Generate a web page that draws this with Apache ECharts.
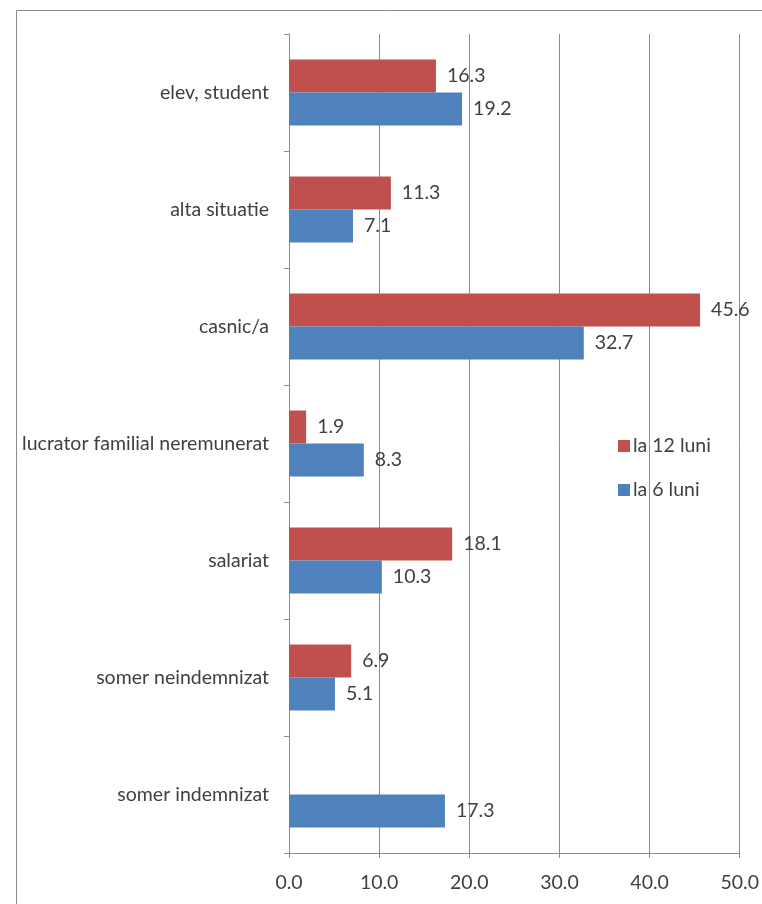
<!DOCTYPE html>
<html>
<head>
<meta charset="utf-8">
<script src="https://cdn.jsdelivr.net/npm/echarts@6/dist/echarts.min.js"></script>
<style>
  html, body { margin: 0; padding: 0; background: #fff; }
  #main { width: 762px; height: 904px; }
</style>
</head>
<body>
<div id="main"></div>
<script>
// categories, bottom to top
var categories = ['somer indemnizat', 'somer neindemnizat', 'salariat',
  'lucrator familial neremunerat', 'casnic/a', 'alta situatie', 'elev, student'];
var la12luni = [null, 6.9, 18.1, 1.9, 45.6, 11.3, 16.3];
var la6luni = [17.3, 5.1, 10.3, 8.3, 32.7, 7.1, 19.2];
var seriesNames = ['la 12 luni', 'la 6 luni'];

var chartObj = echarts.init(document.getElementById('main'));
var textColor = '#404040';
var fontFam = 'Lato, "Open Sans", sans-serif';
var fontSz = 19.5;

var labelOpt = {
  show: true,
  position: 'right',
  distance: 11,
  color: textColor,
  fontSize: fontSz,
  fontFamily: fontFam,
  formatter: function (p) { return p.value.toFixed(1); }
};

var option = {
  animation: false,
  backgroundColor: '#fff',
  // rama exterioara
  graphic: [{
    type: 'rect',
    shape: { x: 16.5, y: 10.5, width: 800, height: 1000 },
    style: { fill: 'none', stroke: '#8c8c8c', lineWidth: 1 },
    silent: true
  }],
  grid: { left: 289, right: 21, top: 34, bottom: 51, containLabel: false },
  legend: {
    orient: 'vertical',
    left: 618,
    top: 436,
    padding: 0,
    itemWidth: 12,
    itemHeight: 12,
    itemGap: 24,
    icon: 'rect',
    data: seriesNames,
    textStyle: { color: textColor, fontSize: fontSz, fontFamily: fontFam, padding: [0, 0, 0, -2] }
  },
  xAxis: {
    type: 'value',
    min: 0,
    max: 50,
    interval: 10,
    axisLine: { show: true, lineStyle: { color: '#8c8c8c' } },
    axisTick: { show: true, length: 5, lineStyle: { color: '#8c8c8c' } },
    splitLine: { show: true, lineStyle: { color: '#8c8c8c' } },
    axisLabel: {
      color: textColor, fontSize: fontSz, fontFamily: fontFam, margin: 20,
      formatter: function (v) { return v.toFixed(1); }
    }
  },
  yAxis: {
    type: 'category',
    data: categories,
    axisLine: { show: true, lineStyle: { color: '#8c8c8c' } },
    axisTick: { show: true, length: 5, lineStyle: { color: '#8c8c8c' } },
    axisLabel: { color: textColor, fontSize: fontSz, fontFamily: fontFam, margin: 20 }
  },
  series: [
    {
      name: seriesNames[0],
      type: 'bar',
      data: la12luni,
      barWidth: 33,
      barGap: '0%',
      itemStyle: { color: '#C0504D' },
      label: labelOpt
    },
    {
      name: seriesNames[1],
      type: 'bar',
      data: la6luni,
      barWidth: 33,
      barGap: '0%',
      itemStyle: { color: '#4F81BD' },
      label: labelOpt
    }
  ]
};

chartObj.setOption(option);
</script>
</body>
</html>
